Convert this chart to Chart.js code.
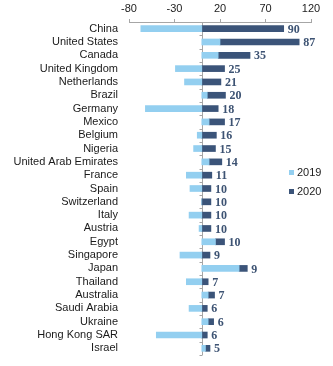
<!DOCTYPE html>
<html>
<head>
<meta charset="utf-8">
<script src="https://cdn.jsdelivr.net/npm/chart.js@4.4.1/dist/chart.umd.min.js"></script>
<style>
  html, body { margin: 0; padding: 0; background: #fff; }
  #wrap { width: 333px; height: 366px; }
</style>
</head>
<body>
<div id="wrap"><canvas id="growthChart"></canvas></div>
<script>
const countries = [
  'China', 'United States', 'Canada', 'United Kingdom', 'Netherlands', 'Brazil',
  'Germany', 'Mexico', 'Belgium', 'Nigeria', 'United Arab Emirates', 'France',
  'Spain', 'Switzerland', 'Italy', 'Austria', 'Egypt', 'Singapore', 'Japan',
  'Thailand', 'Australia', 'Saudi Arabia', 'Ukraine', 'Hong Kong SAR', 'Israel'
];

const values2019 = [-67, 20, 18, -29, -19, 6, -62, 8, -5, -9, 8, -17, -13, 0, -14, -3, 15, -24, 41, -17, 7, -14, 7, -50, 4];
const values2020 = [90, 87, 35, 25, 21, 20, 18, 17, 16, 15, 14, 11, 10, 10, 10, 10, 10, 9, 9, 7, 7, 6, 6, 6, 5];

const xTicks = [-80, -30, 20, 70, 120];

const LIGHT = '#93cff0';
const DARK = '#3b5479';

// vertical line at zero with small ticks between categories
const zeroLine = {
  id: 'zeroLine',
  beforeDatasetsDraw(chart) {
    const { ctx, chartArea, scales } = chart;
    const x0 = Math.round(scales.x.getPixelForValue(0)) + 0.5;
    ctx.save();
    ctx.strokeStyle = '#a6a6a6';
    ctx.lineWidth = 1;
    ctx.beginPath();
    ctx.moveTo(x0, chartArea.top);
    ctx.lineTo(x0, chartArea.bottom);
    const n = countries.length;
    const step = (chartArea.bottom - chartArea.top) / n;
    for (let i = 0; i <= n; i++) {
      const y = Math.round(chartArea.top + i * step) + 0.5;
      ctx.moveTo(x0 - 3, y);
      ctx.lineTo(x0, y);
    }
    ctx.stroke();
    ctx.restore();
  }
};

// 2020 values written after the end of each stacked bar
const endLabels = {
  id: 'endLabels',
  afterDatasetsDraw(chart) {
    const { ctx } = chart;
    const meta = chart.getDatasetMeta(1);
    ctx.save();
    ctx.font = 'bold 12px "Liberation Serif", serif';
    ctx.fillStyle = '#3d5373';
    ctx.textAlign = 'left';
    ctx.textBaseline = 'middle';
    meta.data.forEach((bar, i) => {
      ctx.fillText(String(values2020[i]), bar.x + 4, bar.y + 1);
    });
    ctx.restore();
  }
};

// small legend on the right side
const sideLegend = {
  id: 'sideLegend',
  afterDraw(chart) {
    const { ctx } = chart;
    const x = chart.width - 44;
    ctx.save();
    ctx.font = '11px "Liberation Sans", Arial, sans-serif';
    ctx.textBaseline = 'middle';
    ctx.textAlign = 'left';
    chart.data.datasets.forEach((ds, i) => {
      const y = 173 + i * 19;
      ctx.fillStyle = ds.backgroundColor;
      ctx.fillRect(x, y - 3, 5, 5);
      ctx.fillStyle = '#222';
      ctx.fillText(ds.label, x + 8, y);
    });
    ctx.restore();
  }
};

new Chart(document.getElementById('growthChart'), {
  type: 'bar',
  data: {
    labels: countries,
    datasets: [
      {
        label: '2019',
        data: values2019,
        backgroundColor: LIGHT,
        barThickness: 6
      },
      {
        label: '2020',
        data: values2020,
        backgroundColor: DARK,
        barThickness: 6
      }
    ]
  },
  options: {
    indexAxis: 'y',
    responsive: true,
    maintainAspectRatio: false,
    animation: false,
    layout: {
      padding: { left: 2, right: 22, top: 0, bottom: 11 }
    },
    plugins: {
      legend: { display: false },
      tooltip: { enabled: false }
    },
    scales: {
      x: {
        position: 'top',
        stacked: true,
        min: -80,
        max: 120,
        afterBuildTicks: (scale) => {
          scale.ticks = xTicks.map((v) => ({ value: v }));
        },
        afterFit: (scale) => {
          scale.height = 22;
        },
        ticks: {
          color: '#222',
          padding: 3,
          font: { family: '"Liberation Sans", Arial, sans-serif', size: 11 }
        },
        grid: {
          drawOnChartArea: false,
          drawTicks: true,
          tickLength: 3,
          color: '#a6a6a6'
        },
        border: { display: true, color: '#a6a6a6' }
      },
      y: {
        stacked: true,
        afterFit: (scale) => {
          // fixed width; no extra room above/below for the tick labels
          scale.width = 127;
          scale.paddingTop = 0;
          scale.paddingBottom = 0;
        },
        ticks: {
          color: '#1a1a1a',
          padding: 11,
          autoSkip: false,
          font: { family: '"Liberation Sans", Arial, sans-serif', size: 11 }
        },
        grid: { display: false, drawTicks: false },
        border: { display: false }
      }
    }
  },
  plugins: [zeroLine, endLabels, sideLegend]
});
</script>
</body>
</html>
